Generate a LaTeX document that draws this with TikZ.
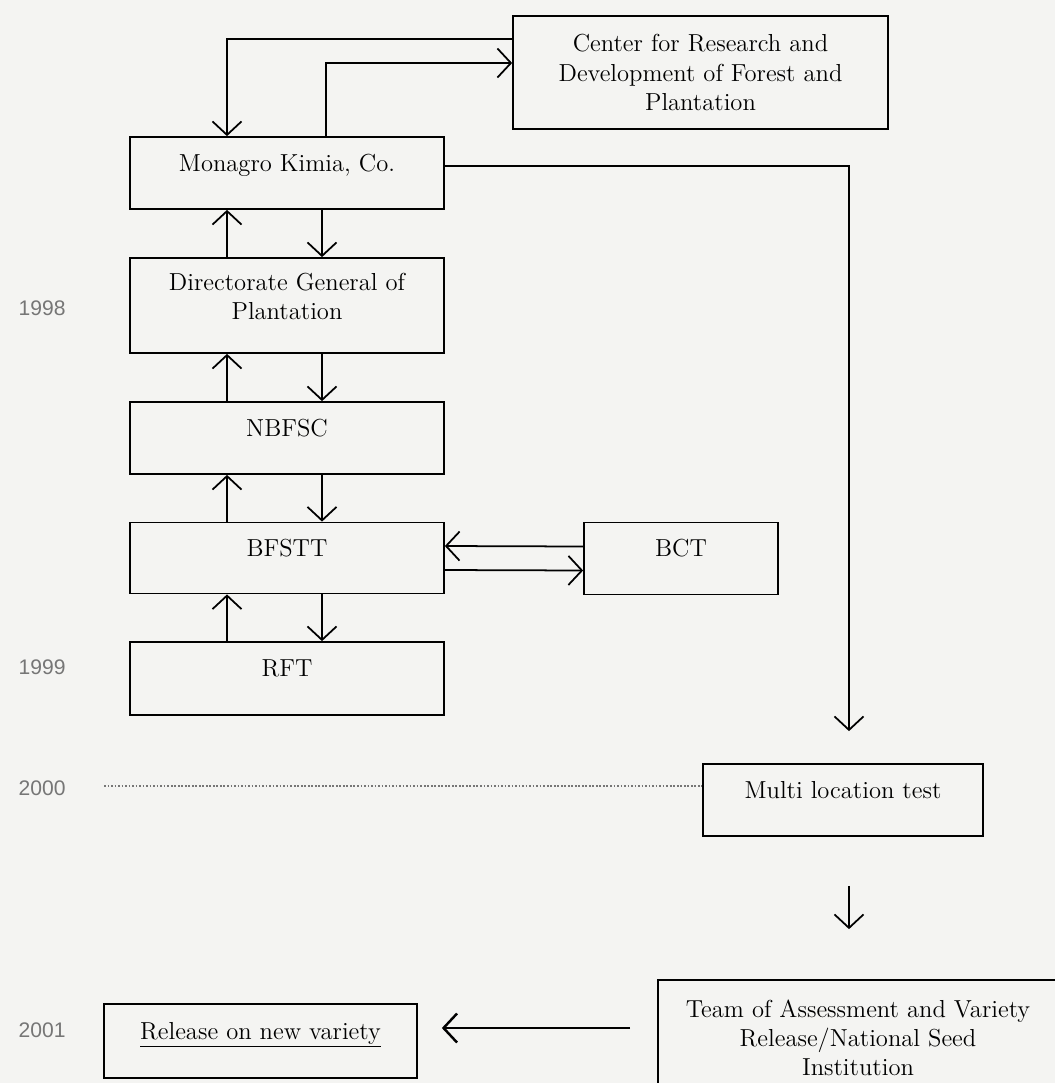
\documentclass[tikz,border=0pt]{standalone}
\usepackage{fontspec}
\newfontfamily\yearfont{Liberation Sans}
\usepackage{xcolor}
\usepackage{tikz}
\usetikzlibrary{arrows.meta,calc,positioning}
\definecolor{paper}{RGB}{244,244,242}
\definecolor{yeargray}{RGB}{118,118,118}
\tikzset{
  box/.style={draw, line width=1pt, minimum width=6.28cm, align=center,
    inner sep=2pt, font=\fontsize{14}{16.6}\selectfont},
  onebox/.style={box, text height=9.8pt, text depth=11.8pt},
  year/.style={anchor=west, text=yeargray, font=\yearfont\fontsize{12}{14}\selectfont}
}

\begin{document}
\begin{tikzpicture}[x=0.02cm, y=-0.02cm, line width=1pt,
  >={Straight Barb[length=0.27cm,width=0.58cm]}]
\useasboundingbox (0,0) rectangle (1055,1083);
\clip (0,0) rectangle (1055,1083);
\fill[paper] (0,0) rectangle (1055,1083);

% left column
\node[onebox, minimum height=1.44cm] (mon) at (287,173) {Monagro Kimia, Co.};
\node[box, minimum height=1.9cm] (dgp) at (287,305.5) {Directorate General of\\Plantation\\[-6pt]\mbox{}};
\node[onebox, minimum height=1.44cm] (nbf) at (287,438) {NBFSC};
\node[onebox, minimum height=1.42cm] (bfs) at (287,558) {BFSTT};
\node[onebox, minimum height=1.46cm] (rft) at (287,678.5) {RFT};
\node[onebox, minimum width=6.26cm, minimum height=1.48cm] (rel) at (260.5,1041) {\underline{Release on new variety}};

% right side
\node[box, minimum width=7.5cm, minimum height=2.26cm] (ctr) at (700.5,72.5)
  {Center for Research and\\Development of Forest and\\Plantation};
\node[onebox, minimum width=3.88cm, minimum height=1.44cm] (bct) at (681,558.5) {BCT};
\node[onebox, minimum width=5.6cm, minimum height=1.44cm] (mlt) at (843,800) {Multi location test};
\node[box, minimum width=8cm, minimum height=2.3cm] (tas) at (858,1037.5)
  {Team of Assessment and Variety\\Release/National Seed\\Institution};

% years
\node[year] (y98) at (12,308) {1998};
\node[year] (y99) at (12,667) {1999};
\node[year] (y00) at (12,788) {2000};
\node[year] (y01) at (12,1030) {2001};

% links to the center
\draw[->] ($(ctr.west)+(0,-33.5)$) -| ($(mon.north)+(-60,0)$);
\draw[->] ($(mon.north)+(39,0)$) |- ($(ctr.west)+(0,-9.5)$);
\draw[->] ($(mon.east)+(0,-7)$) -| ($(mlt.north)+(6,-32)$);

% up and down the column
\path[->] ($(dgp.north)+(-60,0)$) edge ($(mon.south)+(-60,0)$);
\path[->] ($(mon.south)+(35,0)$) edge ($(dgp.north)+(35,0)$);
\path[->] ($(nbf.north)+(-60,0)$) edge ($(dgp.south)+(-60,0)$);
\path[->] ($(dgp.south)+(35,0)$) edge ($(nbf.north)+(35,0)$);
\path[->] ($(bfs.north)+(-60,0)$) edge ($(nbf.south)+(-60,0)$);
\path[->] ($(nbf.south)+(35,0)$) edge ($(bfs.north)+(35,0)$);
\path[->] ($(rft.north)+(-60,0)$) edge ($(bfs.south)+(-60,0)$);
\path[->] ($(bfs.south)+(35,0)$) edge ($(rft.north)+(35,0)$);

% BCT
\draw[->] ($(bct.west)+(0,-12)$) -- ($(bfs.east)+(0,-12)$);
\draw[->] ($(bfs.east)+(0,12)$) -- ($(bct.west)+(0,12)$);

% 2000 line and release
\coordinate (tl00) at (104,786);
\draw[yeargray, densely dotted, line width=1pt] (tl00) -- ($(mlt.west)+(0,-14)$);
\draw[->] ($(mlt.south)+(6,49)$) -- ($(tas.north)+(-9,-50)$);
\draw[->, line width=1.4pt] ($(tas.west)+(-27,-9.5)$) -- ($(rel.east)+(24,-13)$);
\end{tikzpicture}
\end{document}
